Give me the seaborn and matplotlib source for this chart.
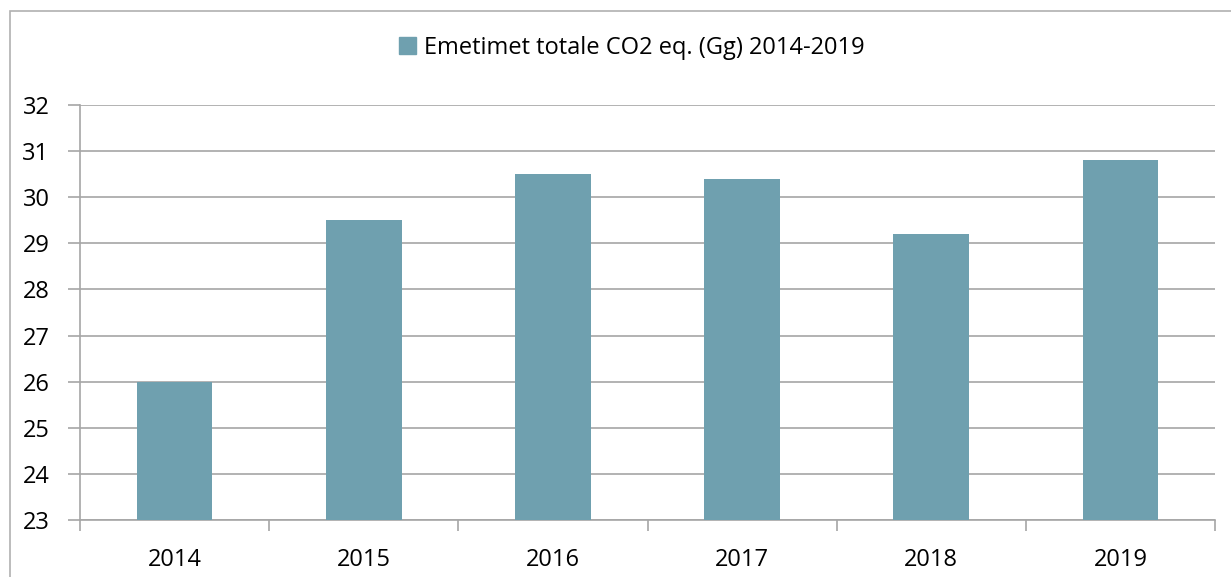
import matplotlib.pyplot as plt
import matplotlib.patches as mpatches
from matplotlib.ticker import FixedLocator
import seaborn as sb
import pandas as pd

years = ["2014", "2015", "2016", "2017", "2018", "2019"]
emissions = [26.0, 29.5, 30.5, 30.4, 29.2, 30.8]
label = "Emetimet totale CO2 eq. (Gg) 2014-2019"
barColor = "#6FA0AF"
gridColor = "#A6A6A6"

df = pd.DataFrame({"Viti": years, "Emetimet": emissions})

sb.set_style("white")
plt.rcParams['font.family'] = ['Open Sans', 'DejaVu Sans']

fig = plt.figure(figsize=(12.31, 5.77), dpi=100)
ax = fig.add_axes([80 / 1231, 57 / 577, 1135 / 1231, 415 / 577])

sb.barplot(data=df, x="Viti", y="Emetimet", color=barColor, width=0.4,
           saturation=1, edgecolor=barColor, linewidth=0, ax=ax, zorder=3)

ax.set_ylim(23, 32)
ax.set_yticks(range(23, 33))
ax.set_xlim(-0.5, len(years) - 0.5)
ax.set_xlabel("")
ax.set_ylabel("")
ax.yaxis.grid(True, color=gridColor, linewidth=1.2, zorder=0)
ax.set_axisbelow(True)

for side in ["top", "right"]:
    ax.spines[side].set_visible(False)
for side in ["left", "bottom"]:
    ax.spines[side].set_color(gridColor)
    ax.spines[side].set_linewidth(1.2)

ax.tick_params(axis="y", length=9, color=gridColor, width=1.2, labelsize=17,
               labelcolor="black", pad=13, left=True)
ax.tick_params(axis="x", which="major", length=0, labelsize=17, labelcolor="black", pad=20)
ax.xaxis.set_minor_locator(FixedLocator([i - 0.5 for i in range(len(years) + 1)]))
ax.tick_params(axis="x", which="minor", length=8, color=gridColor, width=1.2, bottom=True)

handle = mpatches.Patch(color=barColor, label=label)
fig.legend(handles=[handle], loc="center", bbox_to_anchor=(632 / 1231, 1 - 48 / 577),
           frameon=False, fontsize=17, labelcolor="black",
           handlelength=0.7, handleheight=0.7, handletextpad=0.35)

border = mpatches.Rectangle((10 / 1231, -0.05), 1.1, 1.05 - 11 / 577,
                            transform=fig.transFigure, fill=False,
                            edgecolor="#B0B0B0", linewidth=1.2)
fig.add_artist(border)

fig.savefig("out.png", dpi=100)
